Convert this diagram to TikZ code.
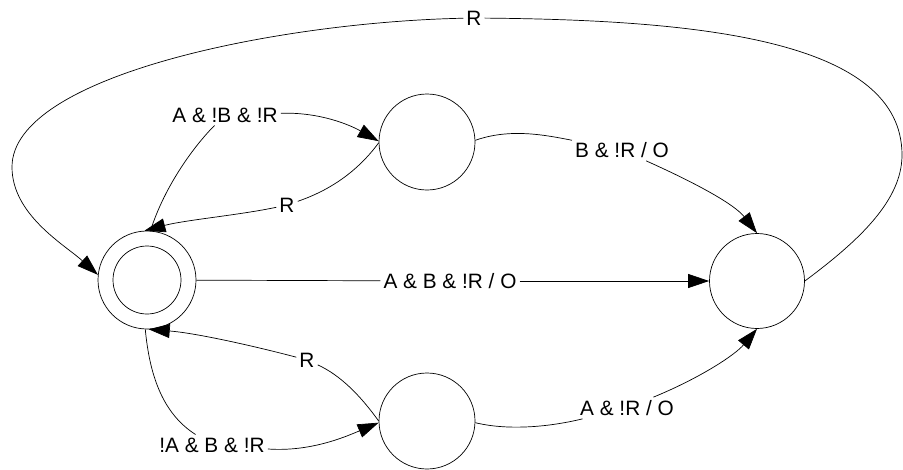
\documentclass[tikz,border=0pt]{standalone}
\usepackage{fontspec}
\setmainfont{Liberation Sans}
\usetikzlibrary{arrows.meta}
\begin{document}
\begin{tikzpicture}[x=1pt,y=-1pt,
  state/.style={circle,draw,line width=0.7pt,inner sep=0pt,minimum size=96pt},
  lbl/.style={inner sep=3pt,font=\fontsize{20.8}{24}\selectfont},
  edge/.style={line width=0.7pt,-{Triangle[length=21pt,width=14pt]}},
  plain/.style={line width=0.7pt}]
\useasboundingbox (0,0) rectangle (903,469);
% states
\node[state,minimum size=98pt] (s) at (147,280) {};
\node[state,minimum size=68pt] (si) at (147,280) {};
\node[state] (t) at (427,142) {};
\node[state] (b) at (427,421) {};
\node[state,minimum size=95pt] (f) at (757,281) {};
% labels
\node[lbl] (l1) at (450,281) {A \& B \& !R / O};
\node[lbl] (l2) at (225,115) {A \& !B \& !R};
\node[lbl] (l3) at (287,205) {R};
\node[lbl] (l4) at (307,360) {R};
\node[lbl] (l5) at (212,445) {!A \& B \& !R};
\node[lbl] (l6) at (622,150) {B \& !R / O};
\node[lbl] (l7) at (627,408) {A \& !R / O};
\node[lbl] (l8) at (474,18) {R};
% s -> f
\draw[plain] (s) -- (l1);
\draw[edge] (l1) -- (f);
% s -> t
\draw[plain] (s.86) .. controls (165,185) and (195,145) .. (l2);
\draw[edge] (l2) .. controls (320,112) and (350,125) .. (t.179);
% t -> s
\draw[plain] (t.181) .. controls (355,175) and (325,192) .. (l3);
\draw[edge] (l3) .. controls (240,215) and (185,220) .. (s.93);
% b -> s
\draw[plain] (b.180) .. controls (360,395) and (340,375) .. (l4);
\draw[edge] (l4) .. controls (250,345) and (195,333) .. (s.272);
% s -> b
\draw[plain] (s.268) .. controls (150,380) and (165,415) .. (l5);
\draw[edge] (l5) .. controls (310,452) and (345,437) .. (b.182);
% t -> f
\draw[plain] (t.2) .. controls (510,128) and (545,135) .. (l6);
\draw[edge] (l6) .. controls (700,185) and (735,205) .. (f.90);
% b -> f
\draw[plain] (b.358) .. controls (505,430) and (545,428) .. (l7);
\draw[edge] (l7) .. controls (700,378) and (735,355) .. (f.270);
% f -> s
\draw[plain] (f.0) .. controls (860,240) and (902,200) .. (902,155) .. controls (902,40) and (700,20) .. (l8);
\draw[edge] (l8) .. controls (280,22) and (12,75) .. (12,167) .. controls (12,215) and (65,245) .. (s.174);
\end{tikzpicture}
\end{document}
